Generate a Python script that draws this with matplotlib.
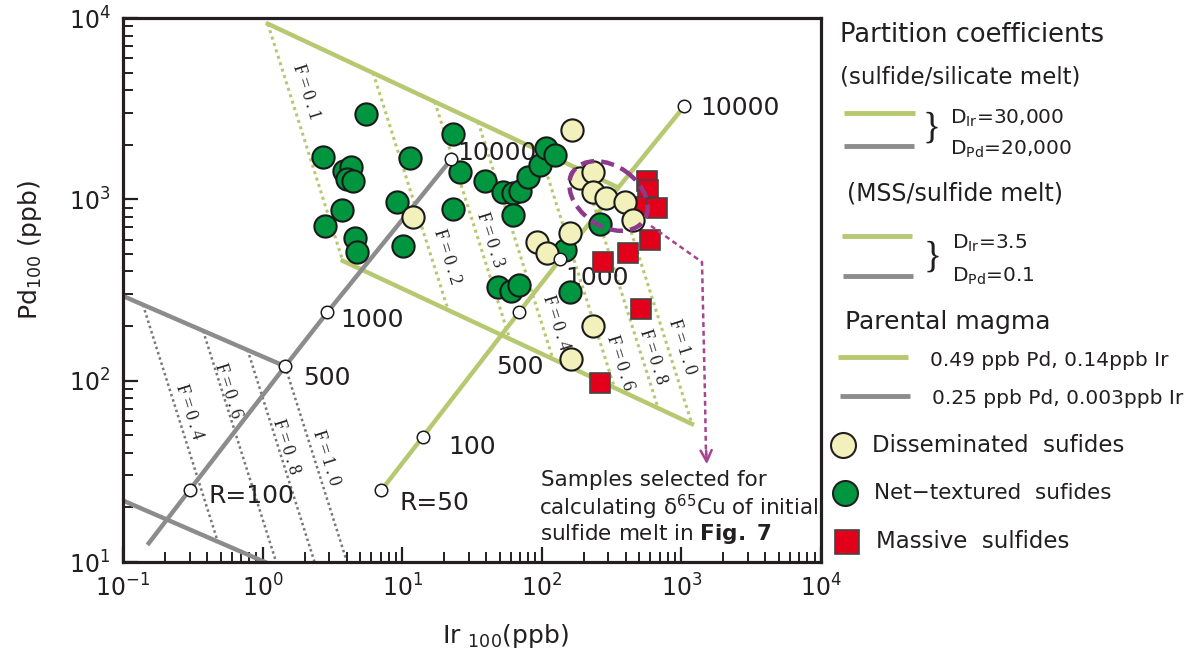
import numpy as np
import matplotlib
matplotlib.use('Agg')
import matplotlib.pyplot as plt
from matplotlib.patches import Ellipse

plt.rcParams['font.family'] = ['DejaVu Sans']
plt.rcParams['mathtext.fontset'] = 'dejavusans'

# ---------------- data ----------------
# Disseminated sulfides
dis_ir = [12.0, 165, 188, 233, 233, 288, 394, 450, 92.4, 109, 159, 233, 162]
dis_pd = [799, 2411, 1311, 1415, 1097, 1017, 966, 769, 581, 506, 652, 200, 132]
# Net-textured sulfides
net_ir = [5.51, 2.71, 3.83, 4.30, 4.02, 4.44, 11.4, 23.1, 25.9, 9.18, 3.71, 2.80,
          4.59, 4.75, 10.1, 23.1, 39.2, 52.7, 62.2, 69.8, 79.6, 97.1, 107, 124,
          62.2, 261, 147, 48.6, 60.2, 68.6, 159]
net_pd = [2955, 1711, 1433, 1508, 1294, 1261, 1690, 2292, 1415, 966, 873, 712,
          612, 512, 553, 884, 1261, 1097, 1083, 1111, 1327, 1546, 1919, 1755,
          819, 731, 525, 328, 312, 337, 308]
# Massive sulfides
mas_ir = [567, 576, 549, 669, 596, 415, 274, 514, 261]
mas_pd = [1261, 1125, 907, 895, 596, 506, 451, 248, 97]

# R-factor lines (sulfide/silicate melt)
r_labels = ["R=50", "100", "500", "1000", "10000"]
rg_ir = [7.1, 14.1, 69.0, 135.6, 1050]          # parental 0.49 Pd / 0.14 Ir
rg_pd = [24.9, 49.2, 239.5, 467, 3267]
ry_labels = ["", "R=100", "500", "1000", "10000"]
ry_ir = [0.153, 0.302, 1.45, 2.906, 22.5]       # parental 0.25 Pd / 0.003 Ir
ry_pd = [12.7, 25.1, 120, 238, 1667]

# Fractional crystallisation (MSS / sulfide melt), green set
fg_F = ["F=0.1", "F=0.2", "F=0.3", "F=0.4", "F=0.6", "F=0.8", "F=1.0"]
fg_top_ir = [1.09, 6.19, 17.1, 35.0, 96.4, 198, 346]
fg_top_pd = [9290, 4980, 3460, 2670, 1850, 1430, 1170]
fg_bot_ir = [3.75, 21.3, 58.8, 120, 332, 681, 1190]
fg_bot_pd = [458, 246, 171, 132, 91.2, 70.5, 57.7]
# gray set
fy_F = ["F=0.4", "F=0.6", "F=0.8", "F=1.0"]
fy_top_ir = [0.139, 0.375, 0.78, 1.45]
fy_top_pd = [262, 188, 148, 120]
fy_bot_ir = [0.478, 1.29, 2.68, 4.99]
fy_bot_pd = [12.9, 9.27, 7.30, 5.92]
fy_up_ir = [0.05, 1.45]
fy_up_pd = [369, 120]
fy_lo_ir = [0.05, 4.99]
fy_lo_pd = [27.5, 5.92]

# ---------------- styles ----------------
GREEN = '#b6c970'
GRAY = '#8c8c8c'
GRAYDOT = '#777777'
DKGREEN = '#009640'
YELLOW = '#f3f1bb'
RED = '#e2001a'
PURPLE = '#8e3a8c'
PURPLE2 = '#a8438f'

W, H = 1197, 659
fig = plt.figure(figsize=(W / 100, H / 100), dpi=100)
ax = fig.add_axes([123 / W, (H - 562) / H, 698 / W, 544 / H])
ax.set_xscale('log')
ax.set_yscale('log')
ax.set_xlim(0.1, 1e4)
ax.set_ylim(10, 1e4)


def P(x, y):
    """pixel position -> data position (for placing labels)"""
    return 10 ** (-1 + (x - 123) / 139.6), 10 ** (4 - (y - 18) / 181.3)


# thick crystallisation lines
ax.plot([fg_top_ir[0], fg_top_ir[-1]], [fg_top_pd[0], fg_top_pd[-1]], color=GREEN, lw=3.2, zorder=2)
ax.plot([fg_bot_ir[0], fg_bot_ir[-1]], [fg_bot_pd[0], fg_bot_pd[-1]], color=GREEN, lw=3.2, zorder=2)
ax.plot(fy_up_ir, fy_up_pd, color=GRAY, lw=3.2, zorder=2)
ax.plot(fy_lo_ir, fy_lo_pd, color=GRAY, lw=3.2, zorder=2)
for i in range(len(fg_F)):
    ax.plot([fg_top_ir[i], fg_bot_ir[i]], [fg_top_pd[i], fg_bot_pd[i]],
            color=GREEN, lw=2.2, ls=(0, (1, 1.2)), zorder=1.5)
for i in range(len(fy_F)):
    ax.plot([fy_top_ir[i], fy_bot_ir[i]], [fy_top_pd[i], fy_bot_pd[i]],
            color=GRAYDOT, lw=1.8, ls=(0, (1, 1.2)), zorder=1.5)

# R lines
ax.plot(rg_ir, rg_pd, color=GREEN, lw=3.2, zorder=2)
ax.plot(ry_ir, ry_pd, color=GRAY, lw=3.2, zorder=2)

# F labels
serif = ['Liberation Serif', 'DejaVu Serif']
def flab(s):
    return '\u2009'.join(list(s))
fg_lab_px = [(306, 92), (447, 257), (490, 240), (556, 323), (620, 363), (653, 357), (682, 347)]
for s, (px, py) in zip(fg_F, fg_lab_px):
    ax.text(*P(px, py), flab(s), family=serif, fontsize=13, rotation=-72.5,
            rotation_mode='anchor', ha='center', va='center', color='#222222', zorder=3)
fy_lab_px = [(189, 412), (228, 391), (286, 447), (326, 458)]
for s, (px, py) in zip(fy_F, fy_lab_px):
    ax.text(*P(px, py), flab(s), family=serif, fontsize=13, rotation=-72.5,
            rotation_mode='anchor', ha='center', va='center', color='#222222', zorder=3)

# R labels
rg_lab_px = [(400, 503), (448, 447), (496, 367), (565, 278), (700, 108)]
for s, (px, py) in zip(r_labels, rg_lab_px):
    ax.text(*P(px, py), s, fontsize=18, ha='left', va='center', color='#231f20', zorder=3)
ry_lab_px = [(0, 0), (208, 496), (303, 378), (340, 320), (457, 153)]
for s, (px, py) in zip(ry_labels, ry_lab_px):
    if s:
        ax.text(*P(px, py), s, fontsize=18, ha='left', va='center', color='#231f20', zorder=3)

# samples
ax.plot(net_ir, net_pd, 'o', ms=16, mfc=DKGREEN, mec='#1a1a1a', mew=1.5, ls='none', zorder=4)
ax.plot(mas_ir, mas_pd, 's', ms=14.5, mfc=RED, mec='#444444', mew=1.2, ls='none', zorder=5)
ax.plot(dis_ir, dis_pd, 'o', ms=16, mfc=YELLOW, mec='#1a1a1a', mew=1.5, ls='none', zorder=6)

# open R circles
ax.plot(rg_ir, rg_pd, 'o', ms=9, mfc='white', mec='#1a1a1a', mew=1.1, ls='none', zorder=7)
ax.plot(ry_ir[1:], ry_pd[1:], 'o', ms=9, mfc='white', mec='#1a1a1a', mew=1.1, ls='none', zorder=7)

# axes styling
for sp in ax.spines.values():
    sp.set_linewidth(2.3)
    sp.set_color('#231f20')
ax.tick_params(which='both', direction='in', top=False, right=False, color='#231f20')
ax.tick_params(which='major', length=11, width=1.6, labelsize=17, pad=9, labelcolor='#231f20')
ax.tick_params(which='minor', length=7, width=1.4)

# ---------------- overlay in pixel space ----------------
ov = fig.add_axes([0, 0, 1, 1], zorder=5)
ov.set_xlim(0, W)
ov.set_ylim(H, 0)
ov.axis('off')
ov.patch.set_alpha(0)

TXT = '#231f20'
ov.text(30, 250, r"Pd$_{100}$ (ppb)", fontsize=18, rotation=90, ha='center', va='center', color=TXT)
ov.text(505, 636, r"Ir $_{100}$(ppb)", fontsize=18, ha='center', va='center', color=TXT)

# ellipse and arrow
ov.add_patch(Ellipse((608.5, 196), 86, 60, angle=35, fill=False, ec=PURPLE, lw=3.2,
                     ls=(0, (3, 1.6))))
ov.plot([651, 702, 705, 706], [226, 262, 397, 455], color=PURPLE2, lw=1.8, ls=(0, (2, 1.5)))
ov.annotate('', xy=(707, 467), xytext=(706, 448),
            arrowprops=dict(arrowstyle='->', color=PURPLE2, lw=1.8, mutation_scale=20))

ov.text(541, 480, "Samples selected for", fontsize=15.5, va='center', color=TXT)
ov.text(539, 507, "calculating \u03b4$^{65}$Cu of initial", fontsize=15.5, va='center', color=TXT)
ov.text(540, 534, r"sulfide melt in $\mathbf{Fig.\ 7}$", fontsize=15.5, va='center', color=TXT)

# legend
ov.text(840, 35, "Partition coefficients", fontsize=18.5, va='center', color=TXT)
ov.text(840, 77, "(sulfide/silicate melt)", fontsize=16.5, va='center', color=TXT)
ov.plot([844, 915], [113, 113], color=GREEN, lw=3.5, solid_capstyle='butt')
ov.plot([844, 914], [146, 146], color=GRAY, lw=3.5, solid_capstyle='butt')
ov.text(923, 128, "}", family=serif, fontsize=27, va='center', color=TXT)
ov.text(950, 118, r"D$_{\mathrm{Ir}}$=30,000", fontsize=14.5, va='center', color=TXT)
ov.text(950, 149, r"D$_{\mathrm{Pd}}$=20,000", fontsize=14.5, va='center', color=TXT)
ov.text(847, 193, "(MSS/sulfide melt)", fontsize=17, va='center', color=TXT)
ov.plot([842, 912], [236, 236], color=GREEN, lw=3.5, solid_capstyle='butt')
ov.plot([843, 913], [276, 276], color=GRAY, lw=3.5, solid_capstyle='butt')
ov.text(924, 257, "}", family=serif, fontsize=27, va='center', color=TXT)
ov.text(952, 243, r"D$_{\mathrm{Ir}}$=3.5", fontsize=14.5, va='center', color=TXT)
ov.text(952, 276, r"D$_{\mathrm{Pd}}$=0.1", fontsize=14.5, va='center', color=TXT)
ov.text(845, 322, "Parental magma", fontsize=18, va='center', color=TXT)
ov.plot([838, 908], [357, 357], color=GREEN, lw=3.5, solid_capstyle='butt')
ov.text(930, 360, "0.49 ppb Pd, 0.14ppb Ir", fontsize=14.5, va='center', color=TXT)
ov.plot([840, 910], [396, 396], color=GRAY, lw=3.5, solid_capstyle='butt')
ov.text(932, 398, "0.25 ppb Pd, 0.003ppb Ir", fontsize=14.5, va='center', color=TXT)
ov.plot([843], [445], 'o', ms=18, mfc=YELLOW, mec=TXT, mew=1.5)
ov.text(872, 445, "Disseminated  sufides", fontsize=16.5, va='center', color=TXT)
ov.plot([845], [493], 'o', ms=18, mfc=DKGREEN, mec=TXT, mew=1.5)
ov.text(874, 493, "Net\u2212textured  sufides", fontsize=15.5, va='center', color=TXT)
ov.plot([847], [542], 's', ms=17, mfc=RED, mec='#444444', mew=1.2)
ov.text(876, 542, "Massive  sulfides", fontsize=16.5, va='center', color=TXT)

fig.savefig('out.png', dpi=100)
